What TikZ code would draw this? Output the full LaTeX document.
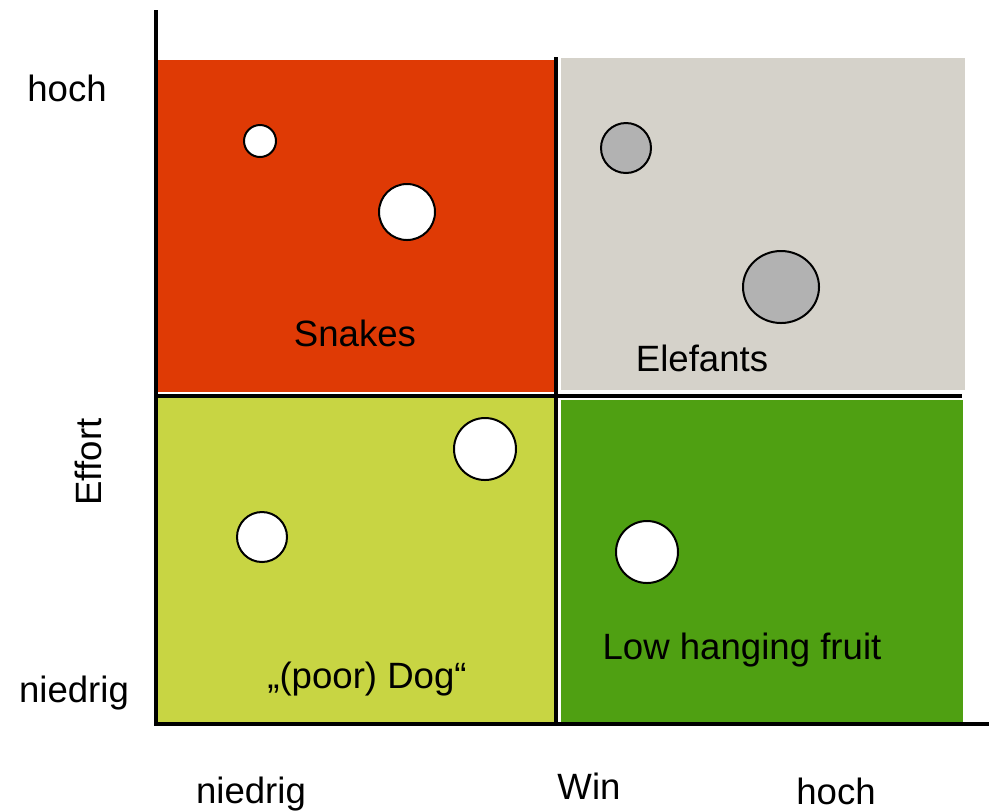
\documentclass[tikz,border=0pt]{standalone}
\usepackage{fontspec}
\setmainfont{Liberation Sans}
\usepackage{xcolor}
\usepackage{tikz}

\definecolor{snakered}{HTML}{DF3A05}
\definecolor{elegray}{HTML}{D5D2CA}
\definecolor{dogyellow}{HTML}{C8D543}
\definecolor{fruitgreen}{HTML}{4FA012}
\definecolor{dotgray}{HTML}{B2B2B2}

\begin{document}
\begin{tikzpicture}[x=0.5pt, y=-0.5pt,
    lbl/.style={font=\fontsize{18.3}{22}\selectfont, inner sep=0pt},
    axis/.style={line width=2pt},
    dot/.style={draw=black, line width=1pt}]
            \useasboundingbox (0,0) rectangle (989,811);

            % Quadrants
            \fill[snakered] (158,60) rectangle (554,392);
            \fill[elegray] (561,58) rectangle (965,390);
            \fill[dogyellow] (158,398) rectangle (555,722);
            \fill[fruitgreen] (561,400) rectangle (963,722);

            % Axes and dividers
            \draw[axis] (156,10) -- (156,724) -- (989,724);
            \draw[axis] (556,57) -- (556,724);
            \draw[axis] (156,396) -- (962,396);

            % Items (white)
            \foreach \x/\y/\r in {260/141/16, 407/212/28, 485/449/31, 262/537/25, 647/552/31}
                \draw[dot, fill=white] (\x,\y) circle (\r);

            % Items (gray)
            \draw[dot, fill=dotgray] (626,148) circle (25);
            \draw[dot, fill=dotgray] (781,287) ellipse (38 and 36);

            % Quadrant names
            \node[lbl] (snakes) at (355,333) {Snakes};
            \node[lbl] (elefants) at (702,358) {Elefants};
            \node[lbl] (dog) at (367,679) {„(poor) Dog“};
            \node[lbl] (fruit) at (742,650) {Low hanging fruit};

            % Axis labels
            \node[lbl] (yhigh) at (67,88) {hoch};
            \node[lbl] (ylow) at (74,693) {niedrig};
            \node[lbl, rotate=90] (effort) at (88,462) {Effort};
            \node[lbl] (xlow) at (251,794) {niedrig};
            \node[lbl] (win) at (589,786) {Win};
            \node[lbl] (xhigh) at (836,791) {hoch};
         \end{tikzpicture}
\end{document}
